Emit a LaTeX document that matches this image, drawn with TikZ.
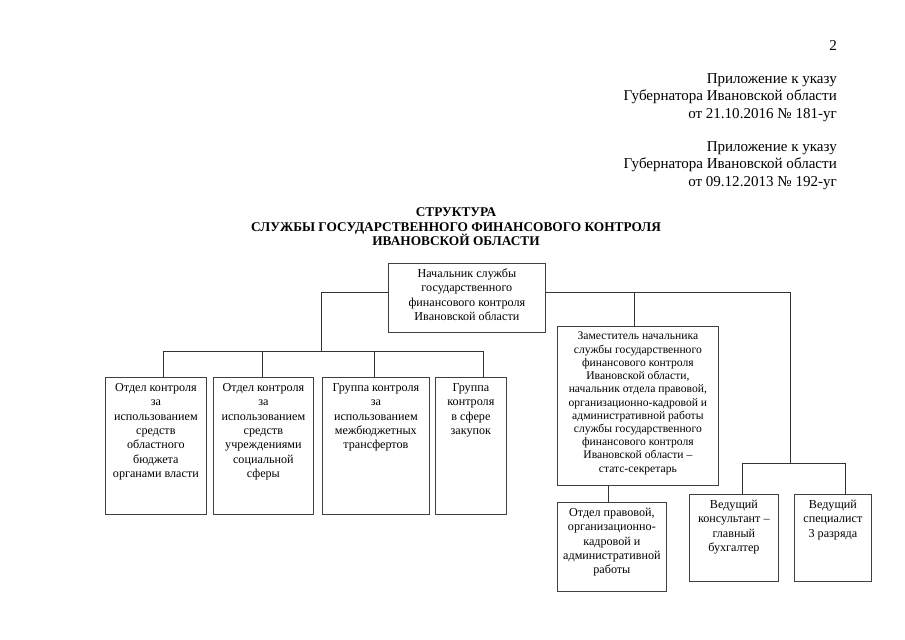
\documentclass[tikz,border=0pt]{standalone}
\usepackage{fontspec}
\setmainfont{Liberation Serif}
\usetikzlibrary{positioning}
\newdimen\px \px=0.9304pt
% box of fixed size, text at the top
\newcommand{\boxtext}[3]{\parbox[c][#2\px][t]{#1\px}{\centering\hyphenpenalty=10000\exhyphenpenalty=10000\vspace*{4pt}\strut #3}}
\tikzset{
    orgbox/.style={
      draw=black!75, %frame colour
      line width=0.7pt,
      inner sep=0pt,
      anchor=north west,
      font=\fontsize{11.3}{13.3}\selectfont,
    },
    link/.style={
      draw=black!80,
      line width=0.7pt,
    }
  }
\begin{document}
\begin{tikzpicture}[x=0.9304pt, y=-0.9304pt]
          \useasboundingbox (0,0) rectangle (905,640);
          % header
          \node[anchor=east, inner sep=0pt, font=\fontsize{14}{16.3}\selectfont] (pg) at (837,46) {2};
          \node[anchor=north east, inner sep=0pt, align=right, font=\fontsize{14}{16.3}\selectfont] (app1) at (837,73)
            {Приложение к указу\\Губернатора Ивановской области\\от 21.10.2016 № 181-уг};
          \node[anchor=north east, inner sep=0pt, align=right, font=\fontsize{14}{16.3}\selectfont] (app2) at (837,141)
            {Приложение к указу\\Губернатора Ивановской области\\от 09.12.2013 № 192-уг};
          \node[inner sep=0pt, align=center, font=\bfseries\fontsize{12.4}{13.5}\selectfont] (title) at (456,227)
            {СТРУКТУРА\\СЛУЖБЫ ГОСУДАРСТВЕННОГО ФИНАНСОВОГО КОНТРОЛЯ\\ИВАНОВСКОЙ ОБЛАСТИ};

          % boxes
          \node[orgbox] (chief) at (388,263) {\boxtext{157}{69}{Начальник службы\\государственного\\финансового контроля\\Ивановской области}};
          \node[orgbox] (b1) at (105,377) {\boxtext{101}{137}{Отдел контроля\\за\\использованием\\средств\\областного\\бюджета\\органами власти}};
          \node[orgbox] (b2) at (213,377) {\boxtext{100}{137}{Отдел контроля\\за\\использованием\\средств\\учреждениями\\социальной\\сферы}};
          \node[orgbox] (b3) at (322,377) {\boxtext{107}{137}{Группа контроля\\за\\использованием\\межбюджетных\\трансфертов}};
          \node[orgbox] (b4) at (435,377) {\boxtext{71}{137}{Группа\\контроля\\в сфере\\закупок}};
          \node[orgbox, font=\fontsize{10.8}{12.3}\selectfont] (deputy) at (557,326) {\boxtext{161}{159}{Заместитель начальника\\службы государственного\\финансового контроля\\Ивановской области,\\начальник отдела правовой,\\организационно-кадровой и\\административной работы\\службы государственного\\финансового контроля\\Ивановской области –\\статс-секретарь}};
          \node[orgbox] (legal) at (557,502) {\boxtext{109}{89}{Отдел правовой,\\организационно-\\кадровой и\\административной\\работы}};
          \node[orgbox] (cons) at (689,494) {\boxtext{89}{87}{Ведущий\\консультант –\\главный\\бухгалтер}};
          \node[orgbox] (spec) at (794,494) {\boxtext{77}{87}{Ведущий\\специалист\\3 разряда}};

          % junctions
          \coordinate (jl) at (321,292);
          \coordinate (jlb) at (321,351);
          \coordinate (d1) at (163,351);
          \coordinate (d2) at (262,351);
          \coordinate (d3) at (374,351);
          \coordinate (d4) at (483,351);
          \coordinate (jd) at (634,292);
          \coordinate (jr) at (790,292);
          \coordinate (jrb) at (790,463);
          \coordinate (dc) at (742,463);
          \coordinate (ds) at (845,463);
          \coordinate (xl) at (608,495);

          % connectors
          \draw[link] (chief.west |- jl) -- (jl) -- (jlb);
          \draw[link] (d1) -- (d4);
          \foreach \d/\b in {d1/b1, d2/b2, d3/b3, d4/b4}
            \draw[link] (\d) -- (\d |- \b.north);
          \draw[link] (chief.east |- jr) -- (jr) -- (jrb);
          \draw[link] (jd) -- (jd |- deputy.north);
          \draw[link] (xl |- deputy.south) -- (xl |- legal.north);
          \draw[link] (dc) -- (ds);
          \draw[link] (dc) -- (dc |- cons.north);
          \draw[link] (ds) -- (ds |- spec.north);
        \end{tikzpicture}
\end{document}
